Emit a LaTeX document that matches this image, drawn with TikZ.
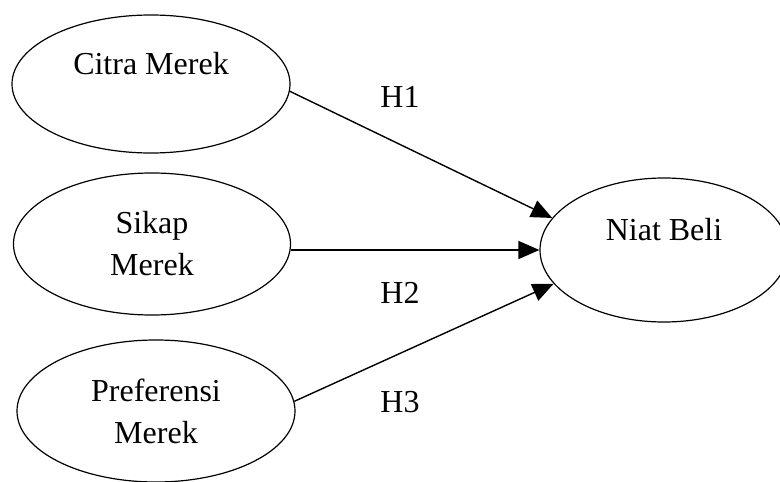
\documentclass[tikz,border=0pt]{standalone}
\usepackage{fontspec}
\setmainfont{Liberation Serif}
\usetikzlibrary{shapes.geometric,arrows.meta}
\begin{document}
\begin{tikzpicture}[x=1pt,y=-1pt,
  latent/.style={draw,ellipse,line width=1.2pt,inner sep=0pt,align=center,
    font=\fontsize{32}{42}\selectfont},
  pathline/.style={line width=1.4pt,-{Triangle[length=21pt,width=18pt]}},
  hlabel/.style={font=\fontsize{32}{42}\selectfont,inner sep=0pt}]
\useasboundingbox (0,0) rectangle (780,482);
\node[latent,minimum width=278pt,minimum height=138pt] (citra) at (151,84) {Citra Merek\\\mbox{}};
\node[latent,minimum width=277pt,minimum height=142pt] (sikap) at (152,244) {Sikap\\Merek};
\node[latent,minimum width=278pt,minimum height=142pt] (pref) at (156,411) {Preferensi\\Merek};
\node[latent,minimum width=248pt,minimum height=144pt] (niat) at (664,250) {Niat Beli\\\mbox{}};
\draw[pathline] (citra.-3) -- (niat.164);
\draw[pathline] (sikap.east |- niat.west) -- (niat.west);
\draw[pathline] (pref.4.5) -- (niat.197);
\node[hlabel] (h1) at (400,97) {H1};
\node[hlabel] (h2) at (400,293) {H2};
\node[hlabel] (h3) at (400,402) {H3};
\end{tikzpicture}
\end{document}
